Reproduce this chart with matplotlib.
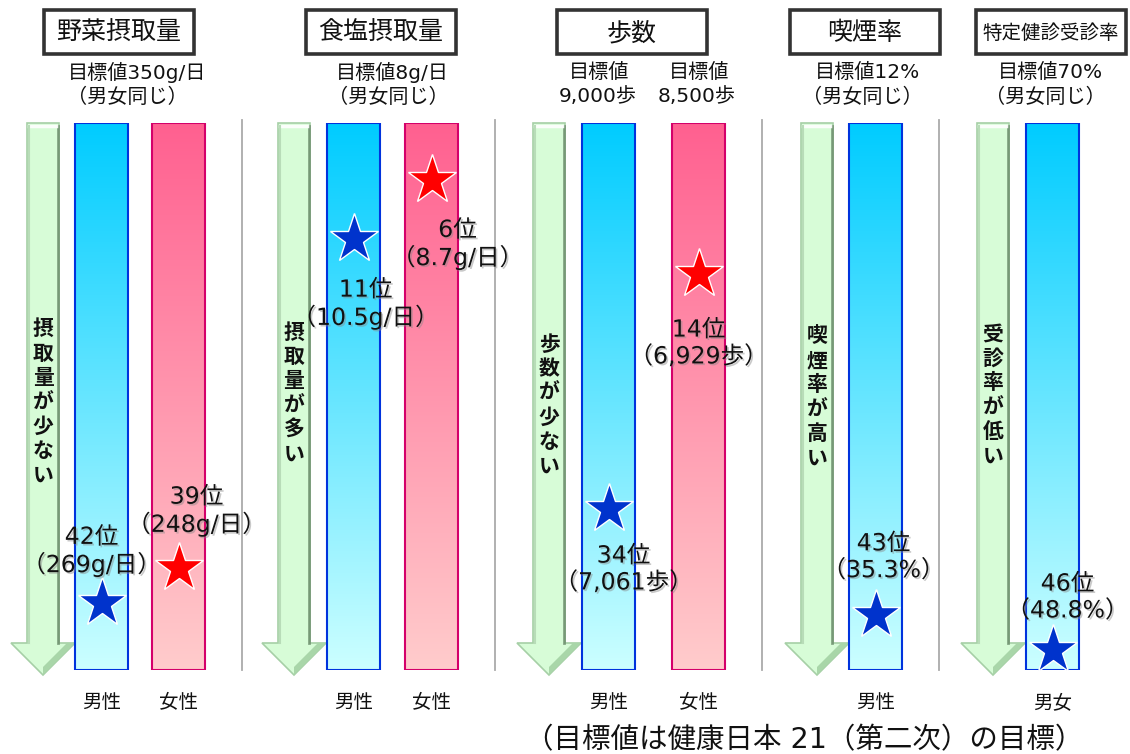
import numpy as np
import matplotlib
matplotlib.use('Agg')
import matplotlib.pyplot as plt
import matplotlib.patheffects as pe
from matplotlib.patches import Rectangle, Polygon
from matplotlib.colors import to_rgb

plt.rcParams['font.family'] = ['Noto Sans CJK JP', 'DejaVu Sans']
wide = ['DejaVu Sans', 'Noto Sans CJK JP']  # wider digits, like the original

# data
titles = ['野菜摂取量', '食塩摂取量', '歩数', '喫煙率', '特定健診受診率']
arrow_texts = ['摂取量が少ない', '摂取量が多い', '歩数が少ない', '喫煙率が高い', '受診率が低い']
male_rank = [42, 11, 34, 43, 46]
female_rank = [39, 6, 14, None, None]
male_label = ['42位\n（269g/日）', '11位\n（10.5g/日）', '34位\n（7,061歩）', '43位\n（35.3%）', '46位\n（48.8%）']
female_label = ['39位\n（248g/日）', '6位\n（8.7g/日）', '14位\n（6,929歩）', None, None]
male_cat = ['男性', '男性', '男性', '男性', '男女']
female_cat = ['女性', '女性', '女性', None, None]
n_pref = 47

# layout (pixels)
W, H = 1130, 754
bar_top, bar_bot = 123, 670
rank_top = (bar_top - 109.5) / 11.75
rank_bot = (bar_bot - 109.5) / 11.75
title_x = [119, 381, 632, 865, 1051]
arrow_x = [27, 278, 533, 801, 977]
male_x = [75, 327, 582, 849, 1026]
female_x = [152, 405, 672, None, None]
bar_w = 53
sep_x = [242, 495, 762, 939]
text_y = [402, 393, 405, 397, 395]
# label offsets (pixels) from the star
male_off = [(-10, 52), (12, -65), (15, -60), (8, 58), (15, 53)]
female_off = [(18, 57), (26, -64), (0, -69), None, None]

fig = plt.figure(figsize=(W / 100, H / 100), dpi=100)
bg = fig.add_axes([0, 0, 1, 1])
bg.set_xlim(0, W)
bg.set_ylim(H, 0)
bg.axis('off')

rk = fig.add_axes([0, (H - bar_bot) / H, 1, (bar_bot - bar_top) / H])
rk.axis('off')

shadow = [pe.withSimplePatchShadow(offset=(1.2, -1.2), shadow_rgbFace='#888888', alpha=0.45)]


def gradient(c0, c1, n=256):
    a, b = np.array(to_rgb(c0)), np.array(to_rgb(c1))
    t = np.linspace(0, 1, n)[:, None]
    return (a * (1 - t) + b * t)[:, None, :]


blue_grad = gradient('#00ccff', '#ccffff')
pink_grad = gradient('#ff6090', '#ffcccc')

# title boxes and targets
for i, t in enumerate(titles):
    bg.add_patch(Rectangle((title_x[i] - 75, 10), 150, 44, fill=False,
                           edgecolor='#333333', lw=2.6))
    fs = 14 if len(t) > 5 else 18
    bg.text(title_x[i], 33, t, ha='center', va='center', fontsize=fs, color='#111111')

target_lines = [
    (137, 72, '目標値350g/日'), (127, 97, '（男女同じ）'),
    (392, 72, '目標値8g/日'), (388, 97, '（男女同じ）'),
    (599, 72, '目標値'), (598, 97, '9,000歩'),
    (699, 72, '目標値'), (697, 97, '8,500歩'),
    (868, 72, '目標値12%'), (862, 97, '（男女同じ）'),
    (1050, 72, '目標値70%'), (1045, 97, '（男女同じ）'),
]
for x, y, s in target_lines:
    bg.text(x, y, s, ha='center', va='center', fontsize=14.5, color='#111111', family=wide)

# separators
for x in sep_x:
    bg.plot([x, x], [120, 670], color='#aaaaaa', lw=1.3)

# green arrows
for i, a0 in enumerate(arrow_x):
    a1 = a0 + 32
    ac = (a0 + a1) / 2
    pts = [(a0, 123), (a1, 123), (a1, 643), (a1 + 16, 643), (ac, 675),
           (a0 - 16, 643), (a0, 643)]
    bg.add_patch(Polygon(pts, closed=True, facecolor='#d7fcd7', edgecolor='#a6cfa6', lw=1.2))
    bg.plot([a1 - 1.5, a1 - 1.5], [126, 643], color='#5f7f5f', lw=2, alpha=0.7)
    bg.plot([a0 + 2, a1 - 3], [126, 126], color='white', lw=2.5, alpha=0.9)
    bg.plot([a0 + 1.5, a0 + 1.5], [126, 643], color='#b8dcb8', lw=1.5)
    bg.add_patch(Polygon([(ac, 675), (a1 + 16, 643), (a1 + 8, 643), (ac, 667)],
                         closed=True, facecolor='#a9d6a9', edgecolor='none'))
    bg.text(ac, text_y[i], '\n'.join(arrow_texts[i]), ha='center', va='center',
            fontsize=15, fontweight='bold', linespacing=1.2, color='#111111')

# bars
for i in range(5):
    for x0, grad, ec in [(male_x[i], blue_grad, '#0033dd'), (female_x[i], pink_grad, '#d4006a')]:
        if x0 is None:
            continue
        rk.imshow(grad, extent=(x0, x0 + bar_w, rank_bot, rank_top), aspect='auto',
                  origin='upper', zorder=1)
        rk.add_patch(Rectangle((x0, rank_top), bar_w, rank_bot - rank_top, fill=False,
                               edgecolor=ec, lw=1.5, zorder=2))

rk.set_xlim(0, W)
rk.set_ylim(rank_bot, rank_top)

# stars and rank labels
for i in range(5):
    items = [(male_x[i], male_rank[i], male_label[i], male_off[i], '#0033cc'),
             (female_x[i], female_rank[i], female_label[i], female_off[i], '#ff0000')]
    for x0, r, lab, off, col in items:
        if x0 is None:
            continue
        xc = x0 + bar_w / 2
        rk.plot(xc, r, marker='*', ms=37, mfc=col, mec='white', mew=1, ls='none', zorder=4)
        rk.annotate(lab, xy=(xc, r), xytext=off, textcoords='offset pixels',
                    ha='center', va='center', fontsize=17, linespacing=1.15,
                    color='#111111', zorder=5, path_effects=shadow, family=wide)

# category labels
for i in range(5):
    bg.text(male_x[i] + bar_w / 2, 703, male_cat[i], ha='center', va='center',
            fontsize=14, color='#111111')
    if female_cat[i]:
        bg.text(female_x[i] + bar_w / 2, 703, female_cat[i], ha='center', va='center',
                fontsize=14, color='#111111')

bg.text(804, 740, '（目標値は健康日本 21（第二次）の目標）', ha='center', va='center',
        fontsize=20.5, color='#111111', family=wide)

fig.savefig('out.png', dpi=100)
